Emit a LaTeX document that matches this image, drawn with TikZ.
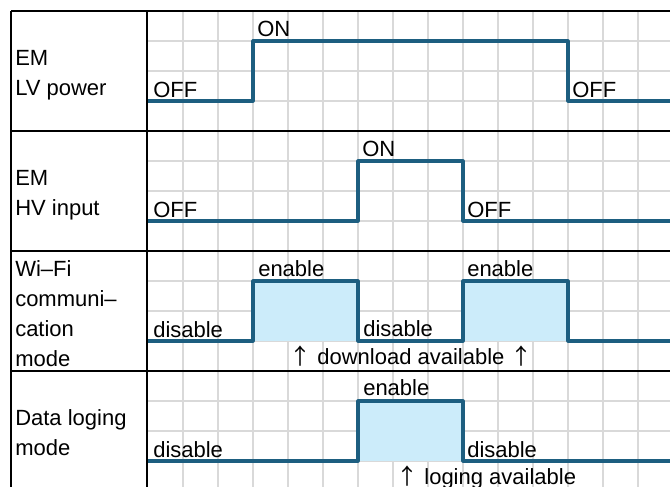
\documentclass[tikz,border=0pt]{standalone}
\usepackage{fontspec}
\setmainfont{Liberation Sans}
\newfontfamily\cjkfont{Noto Sans CJK JP}
\newcommand{\uparr}{{\cjkfont ↑}}
\begin{document}
\begin{tikzpicture}[x=0.75pt,y=-0.75pt,
  gridline/.style={draw={rgb,255:red,217;green,217;blue,217},line width=1.6pt},
  frameline/.style={draw=black,line width=1.9pt},
  signal/.style={draw={rgb,255:red,29;green,94;blue,128},line width=2.4pt,line join=round},
  active/.style={fill={rgb,255:red,204;green,236;blue,250}},
  lbl/.style={anchor=base west,inner sep=0pt,font=\fontsize{16.5pt}{20pt}\selectfont}]
\useasboundingbox (0,0) rectangle (670,486);
\clip (0,0) rectangle (670,486);
\fill[white] (0,0) rectangle (670,486);
% grid
\foreach \k in {1,...,15} {
  \draw[gridline] ({148+35*\k},11) -- ({148+35*\k},490);
}
\foreach \s in {0,1,2,3} {
  \foreach \r in {30,60,90} {
    \draw[gridline] (147,{11+120*\s+\r}) -- (672,{11+120*\s+\r});
  }
}
% active (enable) areas, over the grid
\fill[active] (253,281) rectangle (358,341);
\fill[active] (463,281) rectangle (568,341);
\fill[active] (358,401) rectangle (463,461);
% frame
\draw[frameline] (11,11) -- (11,490);
\draw[frameline] (147,11) -- (147,490);
\foreach \s in {0,1,2,3} {
  \draw[frameline] (11,{11+120*\s}) -- (672,{11+120*\s});
}
% signals
\draw[signal] (148,101) -- (253,101) -- (253,41) -- (568,41) -- (568,101) -- (672,101);
\draw[signal] (148,221) -- (358,221) -- (358,161) -- (463,161) -- (463,221) -- (672,221);
\draw[signal] (148,341) -- (253,341) -- (253,281) -- (358,281) -- (358,341) -- (463,341) -- (463,281) -- (568,281) -- (568,341) -- (672,341);
\draw[signal] (148,461) -- (358,461) -- (358,401) -- (463,401) -- (463,461) -- (672,461);
% labels section 1
\node[lbl] (t1a) at (15,65) {EM};
\node[lbl] (t1b) at (15,95) {LV power};
\node[lbl] (t1c) at (153,97) {OFF};
\node[lbl] (t1d) at (257,36) {ON};
\node[lbl] (t1e) at (572,97) {OFF};
% section 2
\node[lbl] (t2a) at (15,185) {EM};
\node[lbl] (t2b) at (15,215) {HV input};
\node[lbl] (t2c) at (153,217) {OFF};
\node[lbl] (t2d) at (362,156) {ON};
\node[lbl] (t2e) at (467,217) {OFF};
% section 3
\node[lbl] (t3a) at (15,276) {Wi–Fi};
\node[lbl] (t3b) at (15,306) {communi–};
\node[lbl] (t3c) at (15,336) {cation};
\node[lbl] (t3d) at (15,366) {mode};
\node[lbl] (t3e) at (153,337) {disable};
\node[lbl] (t3f) at (258,276) {enable};
\node[lbl] (t3g) at (363,336) {disable};
\node[lbl] (t3h) at (467,276) {enable};
\node[lbl] (t3i) at (289,364) {\uparr\ download available \uparr};
% section 4
\node[lbl] (t4a) at (15,425) {Data loging};
\node[lbl] (t4b) at (15,455) {mode};
\node[lbl] (t4c) at (153,457) {disable};
\node[lbl] (t4d) at (363,395) {enable};
\node[lbl] (t4e) at (467,457) {disable};
\node[lbl] (t4f) at (396,484) {\uparr\ loging available};
\end{tikzpicture}
\end{document}
